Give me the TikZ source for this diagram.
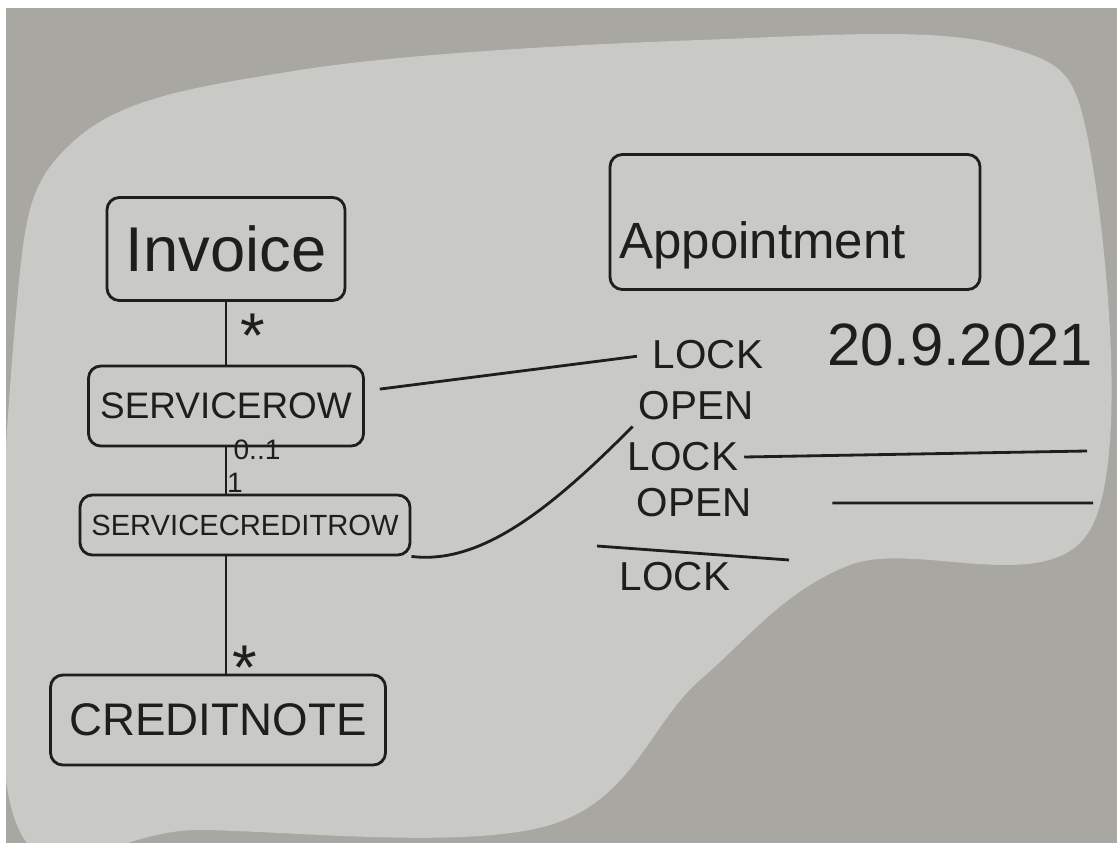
\documentclass[tikz,border=0pt]{standalone}
\usepackage{fontspec}
\setmainfont{Liberation Sans}
\definecolor{ink}{RGB}{32,30,28}
\definecolor{wall}{RGB}{168,167,162}
\definecolor{board}{RGB}{201,201,197}
\tikzstyle{box} = [rectangle, rounded corners=7pt, draw=ink, line width=1.6pt, text=ink, inner sep=0pt]
\tikzstyle{link} = [draw=ink, line width=1.6pt]
\tikzstyle{word} = [text=ink, font=\fontsize{23}{27}\selectfont]
\tikzstyle{mult} = [text=ink, font=\fontsize{16}{18}\selectfont]
\tikzstyle{many} = [text=ink, font=\fontsize{36}{40}\selectfont]

\begin{document}
\begin{tikzpicture}[node distance=1cm]
\useasboundingbox (0,0) rectangle (22.34,-16.86);

% whiteboard
\fill[wall] (0,0) rectangle (22.34,-16.86);
\fill[board] plot[smooth cycle, tension=0.6] coordinates {(0.3,-16.4) (0.3,-6.5) (1.5,-2.8) (6,-1.4) (14,-0.8) (20,-0.9) (21.8,-3) (21.8,-10.6) (17,-11.3) (14,-13.6) (11,-16.5) (4,-16.6)};
\fill[white] (0,0) rectangle (22.34,-0.16);
\fill[white] (0,0) rectangle (0.12,-16.86);

% classes
\node (invoice) [box, minimum width=4.76cm, minimum height=2.06cm, font=\fontsize{36}{42}\selectfont] at (4.52,-4.98) {Invoice};
\node (servicerow) [box, minimum width=5.5cm, minimum height=1.6cm, font=\fontsize{21}{25}\selectfont, below of=invoice, yshift=-2.14cm] {SERVICEROW};
\node (servicecreditrow) [box, minimum width=6.6cm, minimum height=1.2cm, font=\fontsize{16.6}{20}\selectfont, below of=servicerow, xshift=0.38cm, yshift=-1.38cm] {SERVICECREDITROW};
\node (creditnote) [box, minimum width=6.7cm, minimum height=1.8cm, font=\fontsize{26}{30}\selectfont, below of=servicecreditrow, xshift=-0.54cm, yshift=-2.9cm] {CREDITNOTE};
\node (appointment) [box, minimum width=7.4cm, minimum height=2.7cm, font=\fontsize{29}{34}\selectfont] at (15.9,-4.44) {\raisebox{-0.46cm}[\height][\depth]{Appointment}\hspace*{1.3cm}};

% multiplicities
\node (m1) [many] at (5.06,-6.71) {*};
\node (m2) [mult] at (5.14,-9.0) {0..1};
\node (m3) [mult] at (4.7,-9.66) {1};
\node (m4) [many] at (4.9,-13.36) {*};

% lock / open list
\node (lock1) [word] at (14.16,-7.1) {LOCK};
\node (date) [word, font=\fontsize{34}{40}\selectfont, right of=lock1, xshift=4.04cm, yshift=0.2cm] {20.9.2021};
\node (open1) [word, below of=lock1, xshift=-0.24cm, yshift=-0.02cm] {OPEN};
\node (lock2) [word, below of=open1, xshift=-0.26cm, yshift=-0.02cm] {LOCK};
\node (open2) [word, below of=lock2, xshift=0.22cm, yshift=0.08cm] {OPEN};
\node (lock3) [word, below of=open2, xshift=-0.38cm, yshift=-0.48cm] {LOCK};
\coordinate (lockend) at (21.74,-9.02);
\coordinate (openend) at (21.86,-10.06);
\coordinate (sepleft) at (11.94,-10.92);
\coordinate (sepright) at (15.78,-11.2);

% lines
\draw [link] (invoice) -- (servicerow);
\draw [link] (servicerow) -- (servicerow |- servicecreditrow.north);
\draw [link] (servicecreditrow.south -| servicerow.south) -- (creditnote.north -| servicerow.south);
\draw [link, shorten <=0.3cm, shorten >=0.2cm] ([yshift=0.3cm]servicerow.east) -- (lock1.west);
\draw [link] (servicecreditrow.south east) .. controls (9.6,-11.3) and (11,-10.2) .. (open1.south west);
\draw [link] (lock2.east) -- (lockend);
\draw [link, shorten <=1.5cm] (open2.east) -- (openend);
\draw [link] (sepleft) -- (sepright);

\end{tikzpicture}
\end{document}
